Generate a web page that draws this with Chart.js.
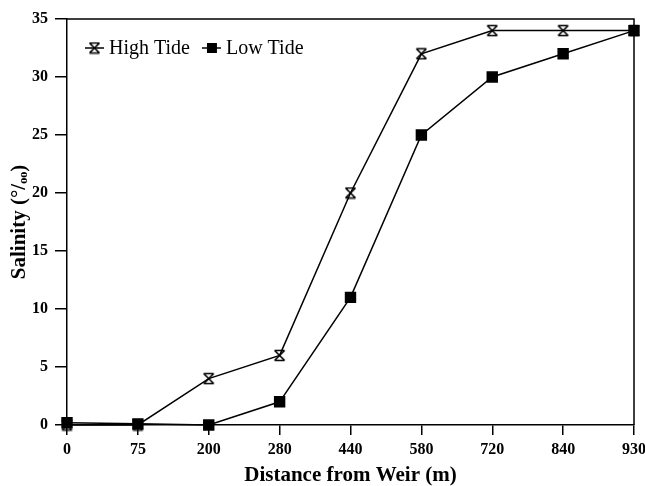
<!DOCTYPE html>
<html>
<head>
<meta charset="utf-8">
<script src="https://cdn.jsdelivr.net/npm/chart.js@4/dist/chart.umd.min.js"></script>
<style>
  body { margin: 0; background: #fff; }
  #wrap { width: 645px; height: 486px; }
</style>
</head>
<body>
<div id="wrap"><canvas id="salinityChart"></canvas></div>
<script>
const distances = ['0', '75', '200', '280', '440', '580', '720', '840', '930'];
const highTide = [0, 0, 4, 6, 20, 32, 34, 34, 34];
const lowTide = [0.2, 0.1, 0, 2, 11, 25, 30, 32, 34];
const yTicks = [0, 5, 10, 15, 20, 25, 30, 35];

const serif = '"Liberation Serif", "Times New Roman", serif';

// hourglass marker for high tide
function hourglass(size) {
    const c = document.createElement('canvas');
    c.width = size; c.height = size;
    const g = c.getContext('2d');
    g.strokeStyle = '#000';
    g.lineWidth = 1.6;
    const p = 1.5, q = size - 1.5;
    g.beginPath();
    g.moveTo(p, p); g.lineTo(q, p);
    g.moveTo(p, q); g.lineTo(q, q);
    g.moveTo(p, p); g.lineTo(q, q);
    g.moveTo(q, p); g.lineTo(p, q);
    g.stroke();
    return c;
}
const hgMarker = hourglass(13);
const hgLegend = hourglass(13);

// frame around plot + legend inside plot
const framePlugin = {
    id: 'frame',
    afterDraw(chart) {
        const { ctx, chartArea: a } = chart;
        ctx.save();
        ctx.strokeStyle = '#000';
        ctx.lineWidth = 1.5;
        ctx.beginPath();
        ctx.moveTo(a.left, a.top);
        ctx.lineTo(a.right, a.top);
        ctx.lineTo(a.right, a.bottom);
        ctx.stroke();

        // legend
        ctx.font = '20px ' + serif;
        ctx.fillStyle = '#000';
        ctx.textBaseline = 'middle';
        let x = a.left + 18;
        const y = a.top + 29;
        chart.data.datasets.forEach((ds, i) => {
            ctx.lineWidth = 1.5;
            ctx.beginPath();
            ctx.moveTo(x, y); ctx.lineTo(x + 19, y);
            ctx.stroke();
            if (i === 0) {
                ctx.drawImage(hgLegend, x + 3, y - 6.5);
            } else {
                ctx.fillRect(x + 5, y - 5, 10, 10);
            }
            ctx.fillText(ds.label, x + 24, y + 1);
            x += 24 + ctx.measureText(ds.label).width + 12;
        });
        ctx.restore();
    }
};

const ctx = document.getElementById('salinityChart').getContext('2d');
new Chart(ctx, {
    type: 'line',
    data: {
        labels: distances,
        datasets: [{
            label: 'High Tide',
            data: highTide,
            borderColor: '#000',
            borderWidth: 1.5,
            pointStyle: hgMarker,
            clip: false
        }, {
            label: 'Low Tide',
            data: lowTide,
            borderColor: '#000',
            backgroundColor: '#000',
            borderWidth: 1.5,
            pointStyle: 'rect',
            pointRadius: 7,
            clip: false
        }]
    },
    options: {
        responsive: true,
        maintainAspectRatio: false,
        animation: false,
        layout: { padding: { top: 19, right: 11, left: 0, bottom: 0 } },
        plugins: {
            legend: { display: false },
            tooltip: { enabled: false }
        },
        scales: {
            x: {
                offset: false,
                grid: { display: true, drawOnChartArea: false, drawTicks: true, tickLength: 10, color: '#000', lineWidth: 1.5 },
                border: { color: '#000', width: 1.5 },
                ticks: { color: '#000', font: { family: serif, size: 16, weight: 'bold' }, padding: 5, maxRotation: 0 },
                title: { display: true, text: 'Distance from Weir (m)', color: '#000', font: { family: serif, size: 21, weight: 'bold', lineHeight: 1 }, padding: { top: 0, bottom: 0 } },
                afterFit(scale) { scale.height = 61; scale.paddingLeft = 0; scale.paddingRight = 0; }
            },
            y: {
                min: 0,
                max: 35,
                afterBuildTicks(scale) { scale.ticks = yTicks.map(v => ({ value: v })); },
                grid: { display: true, drawOnChartArea: false, drawTicks: true, tickLength: 12, color: '#000', lineWidth: 1.5 },
                border: { color: '#000', width: 1.5 },
                ticks: { color: '#000', font: { family: serif, size: 16, weight: 'bold' }, padding: 7 },
                title: { display: true, text: 'Salinity (°/ₒₒ)', color: '#000', font: { family: serif, size: 21, weight: 'bold' }, padding: { top: 7, bottom: 0 } },
                afterFit(scale) { scale.width = 67; scale.paddingTop = 0; scale.paddingBottom = 0; }
            }
        }
    },
    plugins: [framePlugin]
});
</script>
</body>
</html>
